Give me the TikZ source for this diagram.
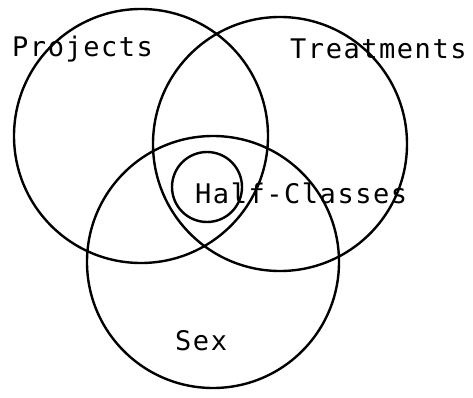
\documentclass[tikz,border=0pt]{standalone}
\usepackage{fontspec}
\setmonofont[LetterSpace=5.7]{DejaVu Sans Mono}
\begin{document}
\begin{tikzpicture}[x=1pt,y=-1pt,
  ring/.style={draw=black,line width=2.4pt,circle,inner sep=0pt},
  lbl/.style={anchor=base west,inner sep=0pt,font=\fontsize{27}{28}\selectfont\ttfamily}]
\useasboundingbox (0,0) rectangle (473,398);
\node[ring,minimum size=254pt] (proj) at (141,136) {};
\node[ring,minimum size=254pt] (treat) at (280,144) {};
\node[ring,minimum size=252pt] (sex) at (213,262) {};
\node[ring,minimum size=70pt] (half) at (207,187) {};
\node[lbl] (tproj) at (12,57) {Projects};
\node[lbl] (ttreat) at (290,59) {Treatments};
\node[lbl] (thalf) at (195,203) {Half-Classes};
\node[lbl] (tsex) at (175,350) {Sex};
\end{tikzpicture}
\end{document}
